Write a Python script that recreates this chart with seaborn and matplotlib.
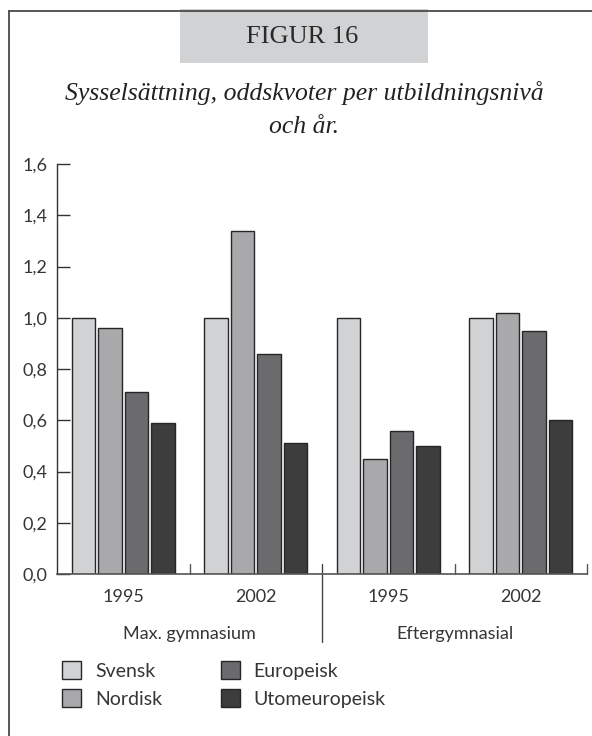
import numpy as np
import pandas as pd
import seaborn as sns
import matplotlib
matplotlib.use("Agg")
import matplotlib.pyplot as plt
from matplotlib.lines import Line2D
from matplotlib.patches import Rectangle
from matplotlib.transforms import blended_transform_factory

# ---- data ----
levels = ["Max. gymnasium", "Eftergymnasial"]
years = ["1995", "2002"]
groups = ["Svensk", "Nordisk", "Europeisk", "Utomeuropeisk"]
svensk = [1.00, 1.00, 1.00, 1.00]
nordisk = [0.96, 1.34, 0.45, 1.02]
europeisk = [0.71, 0.86, 0.56, 0.95]
utomeuropeisk = [0.59, 0.51, 0.50, 0.60]
yticks = [0.0, 0.2, 0.4, 0.6, 0.8, 1.0, 1.2, 1.4, 1.6]
title = "Sysselsättning, oddskvoter per utbildningsnivå"
title2 = "och år."
figlabel = "FIGUR 16"

colors = ["#d1d2d4", "#a8a9ac", "#6a6b6f", "#3d3d3e"]

slots = [f"{lv}|{yr}" for lv in levels for yr in years]
rows = []
for g, vals in zip(groups, [svensk, nordisk, europeisk, utomeuropeisk]):
    for s, v in zip(slots, vals):
        rows.append({"slot": s, "group": g, "value": v})
df = pd.DataFrame(rows)

sns.set_theme(style="white")
SANS = ["Lato", "DejaVu Sans"]
SERIF = ["Liberation Serif", "DejaVu Serif"]
plt.rcParams["font.family"] = SANS
TXT = "#353535"
FS = 13

W, H = 592, 736
fig = plt.figure(figsize=(W / 100, H / 100), dpi=100)

def fx(x):
    return x / W

def fy(y):
    return 1 - y / H

# axes placement
L, R, T, B = 57, 587, 164, 574
ax = fig.add_axes([fx(L), fy(B), fx(R) - fx(L), fy(T) - fy(B)])

sns.barplot(data=df, x="slot", y="value", hue="group", order=slots,
            hue_order=groups, palette=colors, edgecolor="#262626",
            linewidth=1.0, width=0.8, gap=0.1, ax=ax)

ax.set_xlim(-0.5, 3.5)
ax.set_ylim(0, 1.6)
ax.set_xlabel("")
ax.set_ylabel("")
for s in ["top", "right"]:
    ax.spines[s].set_visible(False)
ax.spines["left"].set_color("#333333")
ax.spines["left"].set_linewidth(1.0)
ax.spines["bottom"].set_color("#555555")
ax.spines["bottom"].set_linewidth(1.2)

ax.set_yticks(yticks)
ax.set_yticklabels([f"{v:.1f}".replace(".", ",") for v in yticks])
ax.tick_params(axis="y", left=True, direction="in", length=9.5, width=1.0,
               color="#333333", pad=7, labelsize=FS, labelcolor=TXT)
ax.set_xticks(range(4))
ax.set_xticklabels([s.split("|")[1] for s in slots])
ax.tick_params(axis="x", bottom=False, length=0, pad=11, labelsize=FS,
               labelcolor=TXT)

# boundary ticks on x axis
tr = blended_transform_factory(ax.transData, ax.transAxes)
for xb in [0.5, 2.5, 3.5]:
    ax.add_line(Line2D([xb, xb], [0, 10 / 410], transform=tr, color="#555555",
                       lw=1.0, clip_on=False))
ax.add_line(Line2D([1.5, 1.5], [-68 / 410, 10 / 410], transform=tr,
                   color="#444444", lw=1.0, clip_on=False))

# level labels
for i, lv in enumerate(levels):
    ax.text(2 * i + 0.5, -60 / 410, lv, transform=tr, ha="center", va="center",
            fontsize=FS, color=TXT)

# legend
handles, labels = ax.get_legend_handles_labels()
if ax.legend_:
    ax.legend_.remove()
LFS = 14
leg = fig.legend(handles, labels, loc="upper left",
                 bbox_to_anchor=(fx(62), fy(661)), ncol=2, frameon=False,
                 fontsize=LFS, handlelength=1.0, handleheight=1.05,
                 handletextpad=0.7, labelspacing=0.5, columnspacing=3.0,
                 borderpad=0, borderaxespad=0)
for t in leg.get_texts():
    t.set_color(TXT)

# frame and header band
fig.add_artist(Line2D([fx(8.5), fx(8.5)], [fy(10.5), 0], color="#4a4a4a", lw=1.3))
fig.add_artist(Line2D([fx(8.5), 1], [fy(10.5), fy(10.5)], color="#4a4a4a", lw=1.3))
fig.add_artist(Rectangle((fx(180), fy(63)), fx(428) - fx(180), fy(9) - fy(63),
                         transform=fig.transFigure, facecolor="#d1d2d4",
                         edgecolor="none"))
fig.text(fx(302), fy(37), figlabel, ha="center", va="center", fontsize=19,
         family=SERIF, color="#2a2a2a")
fig.text(fx(304), fy(100), title, ha="center", va="baseline", fontsize=18.5,
         family=SERIF, style="italic", color="#222222")
fig.text(fx(304), fy(133), title2, ha="center", va="baseline", fontsize=18.5,
         family=SERIF, style="italic", color="#222222")

fig.savefig("out.png", dpi=100)
